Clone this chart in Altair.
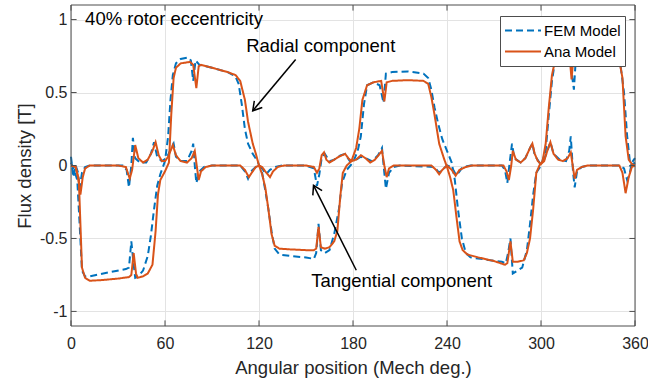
import altair as alt
import pandas as pd

# ---------------- data ----------------
fem_rad_deg = [0, 2, 4, 5.5, 7, 9, 12, 16, 25, 35, 37, 38.5, 40, 41, 43, 46, 49, 51, 53, 55, 57, 60, 62, 63.5, 65, 67, 70, 75, 76.5, 78, 79.5, 82, 90, 100, 105, 107, 109, 111, 113, 116, 119, 122, 124, 126, 128, 130, 133, 140, 150, 155, 156.5, 158, 159.5, 162, 165, 168, 171, 173, 176, 180, 183, 185, 187, 189, 193, 197, 199.5, 201, 205, 215, 225, 228, 230, 232, 234.5, 237, 240, 243, 245, 247, 249.5, 252, 255, 265, 275, 277.5, 279, 280.5, 282, 285, 288, 291, 293, 295, 297, 300, 303, 305, 307, 309, 312, 318, 320, 321, 322.5, 330, 345, 350, 353, 355, 357, 360]
fem_rad_val = [0.02, -0.03, -0.1, -0.4, -0.72, -0.76, -0.76, -0.75, -0.73, -0.71, -0.7, -0.52, -0.68, -0.77, -0.76, -0.72, -0.62, -0.48, -0.3, -0.14, -0.06, 0.03, 0.2, 0.45, 0.62, 0.7, 0.73, 0.74, 0.72, 0.58, 0.72, 0.69, 0.67, 0.64, 0.61, 0.56, 0.42, 0.25, 0.15, 0.08, 0.03, -0.05, -0.17, -0.3, -0.45, -0.57, -0.61, -0.62, -0.63, -0.64, -0.6, -0.4, -0.58, -0.6, -0.58, -0.47, -0.3, -0.12, -0.03, 0.02, 0.1, 0.2, 0.42, 0.55, 0.57, 0.55, 0.43, 0.63, 0.64, 0.645, 0.63, 0.6, 0.52, 0.4, 0.28, 0.18, 0.1, 0.02, -0.1, -0.3, -0.5, -0.6, -0.63, -0.645, -0.66, -0.67, -0.6, -0.5, -0.74, -0.72, -0.7, -0.58, -0.4, -0.2, -0.05, 0.0, 0.1, 0.35, 0.58, 0.72, 0.8, 0.81, 0.6, 0.52, 0.78, 0.81, 0.8, 0.75, 0.5, 0.2, 0.0, 0.02]

fem_tan_deg = [0, 1.5, 3, 4.5, 5.5, 7, 9, 12, 33, 35.5, 37, 38.5, 39.5, 41, 44, 48, 51, 53, 55, 58, 61, 64, 65.5, 67, 70, 74, 77, 78, 79, 80, 82, 85, 90, 108, 111, 113, 115, 118, 120, 122, 124.5, 127, 130, 135, 150, 155, 157, 158.5, 160, 162, 165, 168, 172, 175, 178, 182, 185, 188, 192, 196, 198.5, 200, 201, 203, 206, 210, 232, 235, 237, 240, 243, 246, 248, 250, 255, 275, 277, 278.5, 280, 281.5, 283, 287, 290, 293, 294.5, 296, 299, 302, 304, 306, 308, 312, 316, 318, 319, 320.5, 321.5, 323, 326, 330, 350, 353, 355, 356.5, 358, 360]
fem_tan_val = [0.06, -0.08, 0.0, -0.05, -0.16, -0.05, -0.01, 0.0, 0.0, -0.03, -0.15, 0.0, 0.19, 0.05, 0.02, 0.02, 0.08, 0.16, 0.06, 0.03, 0.05, 0.12, 0.15, 0.06, 0.03, 0.03, 0.1, 0.15, 0.0, -0.12, -0.04, -0.01, 0.0, 0.0, -0.04, -0.09, -0.04, -0.01, 0.0, -0.02, -0.06, -0.03, -0.01, 0.0, 0.0, -0.02, -0.14, -0.06, 0.05, 0.08, 0.03, 0.04, 0.07, 0.08, 0.03, 0.04, 0.06, 0.05, 0.03, 0.07, 0.12, -0.05, -0.16, -0.05, -0.01, 0.0, -0.01, -0.05, -0.03, 0.0, -0.01, -0.07, -0.04, -0.01, 0.0, 0.0, -0.03, -0.12, 0.02, 0.15, 0.05, 0.02, 0.05, 0.12, 0.15, 0.07, 0.02, 0.04, 0.1, 0.16, 0.08, 0.04, 0.03, 0.1, 0.2, -0.05, -0.15, -0.04, -0.01, 0.0, 0.0, -0.02, -0.1, -0.06, 0.02, 0.05]

ana_rad_deg = [0, 3, 5, 6, 7, 9, 12, 20, 30, 37, 38.5, 40, 41.5, 42.5, 46, 49, 52, 54, 55.5, 57, 60, 62.5, 64, 65.5, 67, 70, 76, 78, 80, 81.5, 83, 90, 100, 105, 108, 111, 113, 116, 118, 120, 122, 124, 126, 128, 130, 133, 140, 150, 155, 156.5, 158, 159.5, 162, 165, 168, 170, 172, 173.5, 176, 179, 182, 184, 186, 189, 193, 198, 200, 201.5, 205, 215, 225, 228, 230, 232, 235, 238, 240, 242, 244, 246, 248, 250, 253, 260, 270, 277, 278.5, 280.5, 282, 285, 289, 291, 293, 295, 297, 299, 301, 303, 305, 307, 309, 312, 317, 318.5, 319.5, 320.5, 322, 330, 340, 347, 350, 352, 354, 356, 358, 360]
ana_rad_val = [0.0, -0.01, -0.1, -0.4, -0.7, -0.77, -0.79, -0.785, -0.775, -0.765, -0.75, -0.6, -0.74, -0.77, -0.76, -0.74, -0.68, -0.45, -0.2, -0.1, -0.04, 0.02, 0.35, 0.6, 0.67, 0.7, 0.71, 0.69, 0.53, 0.68, 0.69, 0.67, 0.64, 0.62, 0.58, 0.45, 0.3, 0.15, 0.08, 0.0, -0.06, -0.15, -0.3, -0.47, -0.55, -0.57, -0.575, -0.58, -0.58, -0.57, -0.42, -0.56, -0.57, -0.56, -0.52, -0.45, -0.2, -0.05, 0.0, 0.03, 0.12, 0.25, 0.45, 0.55, 0.57, 0.58, 0.44, 0.57, 0.58, 0.585, 0.58, 0.56, 0.47, 0.35, 0.15, 0.05, -0.01, -0.08, -0.17, -0.35, -0.52, -0.58, -0.61, -0.63, -0.655, -0.68, -0.67, -0.52, -0.66, -0.66, -0.65, -0.6, -0.5, -0.3, -0.05, 0.0, 0.03, 0.15, 0.4, 0.62, 0.72, 0.76, 0.77, 0.72, 0.59, 0.72, 0.77, 0.78, 0.78, 0.77, 0.72, 0.6, 0.2, 0.04, 0.01, 0.0]

ana_tan_deg = [0, 3, 4.5, 6, 7.5, 9, 12, 30, 35, 37.5, 39, 41, 43, 46, 49, 52, 54, 56, 58, 60, 62, 65, 67, 70, 74, 77, 79, 80.5, 81.5, 83, 86, 90, 108, 111, 113.5, 116, 118, 120, 122, 124, 127, 129, 132, 136, 150, 155, 157, 158.5, 160, 161.5, 163, 165, 168, 171, 175, 177, 179, 182, 185, 188, 191, 194, 197, 198.5, 200, 201.5, 203, 206, 230, 233, 235, 237, 240, 243, 245.5, 248, 252, 256, 276, 278, 279.5, 281, 282, 284, 287, 290, 293, 294.5, 296, 298, 300, 302, 304, 306, 308, 311, 314, 317, 319, 320.5, 321.5, 323, 326, 330, 350, 352, 354, 356, 358, 360]
ana_tan_val = [0.0, -0.01, -0.08, -0.2, -0.08, -0.02, 0.0, 0.0, -0.01, -0.09, -0.03, 0.14, 0.05, 0.02, 0.04, 0.1, 0.16, 0.07, 0.03, 0.03, 0.06, 0.14, 0.07, 0.03, 0.02, 0.05, 0.1, -0.02, -0.1, -0.04, -0.01, 0.0, 0.0, -0.03, -0.08, -0.04, -0.01, 0.0, -0.01, -0.04, -0.08, -0.04, -0.01, 0.0, 0.0, -0.01, -0.05, -0.02, 0.07, 0.09, 0.04, 0.02, 0.04, 0.06, 0.08, 0.05, 0.03, 0.04, 0.07, 0.05, 0.02, 0.04, 0.08, 0.1, 0.0, -0.08, -0.02, 0.0, 0.0, -0.03, -0.06, -0.03, 0.0, -0.03, -0.07, -0.03, -0.01, 0.0, 0.0, -0.04, -0.1, 0.0, 0.1, 0.04, 0.02, 0.05, 0.12, 0.15, 0.08, 0.03, 0.01, 0.03, 0.1, 0.16, 0.08, 0.04, 0.03, 0.05, 0.09, -0.02, -0.09, -0.03, -0.01, 0.0, 0.0, -0.05, -0.19, -0.08, -0.01, 0.0]

models = ["FEM Model", "Ana Model"]
model_colors = ["#0072BD", "#D95319"]

x_ticks = [0, 60, 120, 180, 240, 300, 360]
y_ticks = [-1, -0.5, 0, 0.5, 1]

note_text = ["40% rotor eccentricity", "Radial component", "Tangential component"]
note_deg = [9.0, 111.8, 153.3]
note_val = [1.007, 0.816, -0.793]

arrow_from_deg = [143.4, 182.1]
arrow_from_val = [0.727, -0.718]
arrow_to_deg = [116.0, 154.8]
arrow_to_val = [0.375, -0.136]
arrow_angle = [220, 333]

# ---------------- tables ----------------
def series(deg, val, model, comp):
    return pd.DataFrame({"deg": deg, "val": val, "Model": model, "comp": comp})

fem = pd.concat([series(fem_rad_deg, fem_rad_val, "FEM Model", "rad"),
                 series(fem_tan_deg, fem_tan_val, "FEM Model", "tan")])
ana = pd.concat([series(ana_rad_deg, ana_rad_val, "Ana Model", "rad"),
                 series(ana_tan_deg, ana_tan_val, "Ana Model", "tan")])
notes = pd.DataFrame({"t": note_text, "deg": note_deg, "val": note_val})
arrows = pd.DataFrame({"x": arrow_from_deg, "y": arrow_from_val,
                       "x2": arrow_to_deg, "y2": arrow_to_val, "a": arrow_angle})

W, H = 564, 321
FONT = "Liberation Sans"
TXT = "#262626"
BOX = "#4d4d4d"
XT = "Angular position (Mech deg.)"
YT = "Flux density [T]"

xs = alt.Scale(domain=[0, 360], nice=False, zero=False)
ys = alt.Scale(domain=[-1.1, 1.1], nice=False, zero=False)
cs = alt.Scale(domain=models, range=model_colors)
ds = alt.Scale(domain=models, range=[[7, 4], [1, 0]])

xax = alt.Axis(values=x_ticks, title=XT, labelFlush=False,
               titleX=W / 2, titleY=41, titleBaseline="middle",
               labelBaseline="middle", labelPadding=17)
yax = alt.Axis(values=y_ticks, title=YT, labelExpr="'' + datum.value", labelFlush=False,
               titleX=-47, titleY=H / 2, titleBaseline="middle", titleAngle=270,
               labelAlign="right", labelBaseline="middle", labelPadding=4)


def X(f):
    return alt.X(f, scale=xs, axis=xax, title=XT)


def Y(f):
    return alt.Y(f, scale=ys, axis=yax, title=YT)


legend = alt.Legend(title=None, orient="none", legendX=429, legendY=11,
                    symbolType="stroke", symbolSize=1296, symbolStrokeWidth=2,
                    clipHeight=21, labelFontSize=15, labelFont=FONT, labelColor="#000000",
                    labelOffset=2, padding=4, rowPadding=0,
                    labelExpr="datum.label + '\u00a0\u00a0'",
                    fillColor="white", strokeColor=BOX, cornerRadius=0)


def lines(df):
    return alt.Chart(df).mark_line(strokeWidth=2).encode(
        x=X("deg:Q"),
        y=Y("val:Q"),
        color=alt.Color("Model:N", scale=cs, legend=legend),
        strokeDash=alt.StrokeDash("Model:N", scale=ds, legend=legend),
        detail="comp:N",
    )


tick_df_x = pd.DataFrame({"deg": x_ticks})
tick_df_y = pd.DataFrame({"val": y_ticks})
TL = 5.6
tick_style = dict(color=BOX, strokeWidth=1)
xt_bot = alt.Chart(tick_df_x).mark_rule(**tick_style).encode(
    x=X("deg:Q"), y=alt.value(H), y2=alt.value(H - TL))
xt_top = alt.Chart(tick_df_x).mark_rule(**tick_style).encode(
    x=X("deg:Q"), y=alt.value(0), y2=alt.value(TL))
yt_l = alt.Chart(tick_df_y).mark_rule(**tick_style).encode(
    y=Y("val:Q"), x=alt.value(0), x2=alt.value(TL))
yt_r = alt.Chart(tick_df_y).mark_rule(**tick_style).encode(
    y=Y("val:Q"), x=alt.value(W), x2=alt.value(W - TL))

# plot box (frame) drawn from the scale domain edges
frame_df = pd.DataFrame({"deg": [0], "deg2": [360], "val": [-1.1], "val2": [1.1]})
frame = alt.Chart(frame_df).mark_rect(fill=None, stroke=BOX, strokeWidth=1).encode(
    x=X("deg:Q"), x2="deg2:Q", y=Y("val:Q"), y2="val2:Q")

text = alt.Chart(notes).mark_text(align="left", baseline="middle", fontSize=18.5,
                                  font=FONT, color="#000000").encode(
    x=X("deg:Q"), y=Y("val:Q"), text="t:N")

arrow_line = alt.Chart(arrows).mark_rule(color="#000000", strokeWidth=1.5).encode(
    x=alt.X("x:Q", scale=xs, axis=xax, title=XT),
    y=alt.Y("y:Q", scale=ys, axis=yax, title=YT),
    x2="x2:Q", y2="y2:Q")
arrow_head = alt.Chart(arrows).mark_point(shape="M-0.6,1L0,0L0.6,1", filled=False,
                                          color="#000000", strokeWidth=1.5, size=300,
                                          opacity=1).encode(
    x=alt.X("x2:Q", scale=xs, axis=xax, title=XT),
    y=alt.Y("y2:Q", scale=ys, axis=yax, title=YT),
    angle=alt.Angle("a:Q", scale=None))

chart = alt.layer(
    lines(fem), lines(ana), frame, xt_bot, xt_top, yt_l, yt_r,
    arrow_line, arrow_head, text
).properties(
    width=W, height=H, autosize="none", background="white",
    padding={"left": 71, "top": 5, "right": 648 - 71 - W, "bottom": 381 - 5 - H},
).configure_view(stroke=None).configure_axis(
    grid=True, gridColor="#E3E3E3", gridWidth=1, domain=False, ticks=False,
    labelFont=FONT, titleFont=FONT, labelFontSize=16, titleFontSize=18.5,
    labelColor=TXT, titleColor=TXT, titleFontWeight="normal",
)

chart.save("out.html", embed_options={"renderer": "svg", "actions": False})
